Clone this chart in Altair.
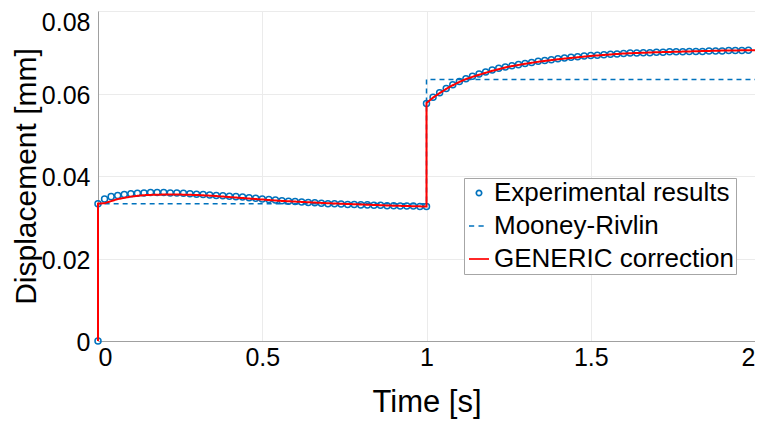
import altair as alt
import pandas as pd

# ---------------- data ----------------
series_names = ["Experimental results", "Mooney-Rivlin", "GENERIC correction"]
series_colors = ["#0072BD", "#0072BD", "#FF0000"]

# Experimental results: first loading step (0 .. 1 s)
exp_time_1 = [0.00, 0.00, 0.02, 0.04, 0.06, 0.08, 0.10, 0.12, 0.14, 0.16, 0.18,
              0.20, 0.22, 0.24, 0.26, 0.28, 0.30, 0.32, 0.34, 0.36, 0.38,
              0.40, 0.42, 0.44, 0.46, 0.48, 0.50, 0.52, 0.54, 0.56, 0.58,
              0.60, 0.62, 0.64, 0.66, 0.68, 0.70, 0.72, 0.74, 0.76, 0.78,
              0.80, 0.82, 0.84, 0.86, 0.88, 0.90, 0.92, 0.94, 0.96, 0.98, 1.00]
exp_disp_1 = [0.0000, 0.0333, 0.0344, 0.0350, 0.0353, 0.0355, 0.0357, 0.0358, 0.0359, 0.0360, 0.0360,
              0.0360, 0.0359, 0.0359, 0.0358, 0.0357, 0.0356, 0.0355, 0.0354, 0.0353, 0.0352,
              0.0351, 0.0350, 0.0349, 0.0347, 0.0346, 0.0344, 0.0343, 0.0342, 0.0340, 0.0339,
              0.0338, 0.0337, 0.0336, 0.0335, 0.0334, 0.0333, 0.0333, 0.0332, 0.0331, 0.0331,
              0.0330, 0.0330, 0.0329, 0.0329, 0.0328, 0.0328, 0.0327, 0.0327, 0.0327, 0.0326, 0.0326]

# Experimental results: second loading step (1 .. 2 s)
exp_time_2 = [1.00, 1.02, 1.04, 1.06, 1.08, 1.10, 1.12, 1.14, 1.16, 1.18,
              1.20, 1.22, 1.24, 1.26, 1.28, 1.30, 1.32, 1.34, 1.36, 1.38,
              1.40, 1.42, 1.44, 1.46, 1.48, 1.50, 1.52, 1.54, 1.56, 1.58,
              1.60, 1.62, 1.64, 1.66, 1.68, 1.70, 1.72, 1.74, 1.76, 1.78,
              1.80, 1.82, 1.84, 1.86, 1.88, 1.90, 1.92, 1.94, 1.96, 1.98]
exp_disp_2 = [0.0576, 0.0591, 0.0602, 0.0612, 0.0621, 0.0629, 0.0636, 0.0642, 0.0647, 0.0652,
              0.0657, 0.0661, 0.0664, 0.0667, 0.0670, 0.0673, 0.0675, 0.0678, 0.0680, 0.0682,
              0.0684, 0.0686, 0.0688, 0.0689, 0.0691, 0.0692, 0.0693, 0.0694, 0.0695, 0.0696,
              0.0697, 0.0698, 0.0698, 0.0699, 0.0699, 0.0700, 0.0700, 0.0701, 0.0701, 0.0701,
              0.0702, 0.0702, 0.0702, 0.0703, 0.0703, 0.0703, 0.0704, 0.0704, 0.0704, 0.0705]

# Mooney-Rivlin model (step response)
mr_time = [0.0, 0.0, 1.0, 1.0, 2.0]
mr_disp = [0.0, 0.0333, 0.0333, 0.0634, 0.0634]

# GENERIC correction
gen_time = [0.00, 0.00, 0.02, 0.04, 0.06, 0.08, 0.10, 0.12, 0.15, 0.20, 0.25,
            0.30, 0.35, 0.40, 0.45, 0.50, 0.55, 0.60, 0.70, 0.80, 0.90, 1.00,
            1.00, 1.02, 1.04, 1.06, 1.08, 1.10, 1.12, 1.15, 1.20, 1.25,
            1.30, 1.35, 1.40, 1.50, 1.60, 1.70, 1.80, 1.90, 2.00]
gen_disp = [0.0000, 0.0333, 0.0334, 0.0339, 0.0344, 0.0347, 0.0350, 0.0352, 0.0354, 0.0355, 0.0355,
            0.0354, 0.0352, 0.0349, 0.0346, 0.0343, 0.0340, 0.0338, 0.0334, 0.0331, 0.0328, 0.0326,
            0.0577, 0.0590, 0.0601, 0.0611, 0.0620, 0.0628, 0.0635, 0.0643, 0.0655, 0.0665,
            0.0672, 0.0678, 0.0683, 0.0691, 0.0697, 0.0700, 0.0702, 0.0704, 0.0705]

x_ticks = [0, 0.5, 1, 1.5, 2]
y_ticks = [0, 0.02, 0.04, 0.06, 0.08]

# legend glyphs (unit-square SVG paths): small open circle, dashed line, solid line
glyph_circle = "M0.27,0A0.27,0.27 0 1,1 -0.27,0A0.27,0.27 0 1,1 0.27,0Z"
glyph_dashed = "M-1,0H-0.48M-0.05,0H0.47"
glyph_solid = "M-1,0H1"

# ---------------- tables ----------------
exp_df = pd.DataFrame({"t": exp_time_1 + exp_time_2,
                       "d": exp_disp_1 + exp_disp_2})
exp_df["series"] = series_names[0]
exp_df["i"] = range(len(exp_df))

mr_df = pd.DataFrame({"t": mr_time, "d": mr_disp})
mr_df["series"] = series_names[1]
gen_df = pd.DataFrame({"t": gen_time, "d": gen_disp})
gen_df["series"] = series_names[2]
line_df = pd.concat([mr_df, gen_df], ignore_index=True)
line_df["i"] = range(len(line_df))

FONT = "Liberation Sans"

x_enc = alt.X("t:Q", scale=alt.Scale(domain=[0, 2], nice=False, zero=False),
              axis=alt.Axis(title="Time [s]", values=x_ticks, format="~g",
                            titleX=328.5, titleY=70, titleBaseline="alphabetic",
                            titleAnchor="middle", titleFontSize=31))
y_enc = alt.Y("d:Q", scale=alt.Scale(domain=[0, 0.08], nice=False),
              axis=alt.Axis(title="Displacement [mm]", values=y_ticks, format="~g",
                            titleX=-62.5, titleY=165, titleBaseline="alphabetic",
                            titleAngle=270, titleAlign="center", titleFontSize=30,
                            labelOffset=alt.condition("datum.value > 0.07", alt.value(11), alt.value(1.5))))

legend = alt.Legend(
    title=None, orient="none", legendX=366, legendY=167,
    symbolSize=400, symbolStrokeWidth=1.7,
    labelFont=FONT, labelFontSize=26, labelColor="black",
    labelLimit=500, labelOffset=2, padding=2, rowPadding=7,
    strokeColor="#a6a6a6", fillColor="white", cornerRadius=0,
)

color_enc = alt.Color("series:N", sort=series_names,
                      scale=alt.Scale(domain=series_names, range=series_colors),
                      legend=legend)
shape_enc = alt.Shape("series:N", sort=series_names,
                      scale=alt.Scale(domain=series_names,
                                      range=[glyph_circle, glyph_dashed, glyph_solid]),
                      legend=legend)

points = alt.Chart(exp_df).mark_point(
    filled=False, size=494, strokeWidth=1.5, opacity=1, clip=False
).encode(x=x_enc, y=y_enc, color=color_enc, shape=shape_enc)

lines = alt.Chart(line_df).mark_line(clip=False).encode(
    x=x_enc, y=y_enc, color=color_enc,
    order=alt.Order("i:Q"),
    strokeDash=alt.StrokeDash("series:N",
                              scale=alt.Scale(domain=series_names[1:], range=[[5, 4], [1, 0]]),
                              legend=None),
    strokeWidth=alt.StrokeWidth("series:N",
                                scale=alt.Scale(domain=series_names[1:], range=[1.5, 2]),
                                legend=None),
)

chart = alt.layer(points, lines).properties(
    width=657, height=330,
    padding={"left": 90, "top": 3, "right": 0, "bottom": 80},
    autosize=alt.AutoSizeParams(type="none"),
).configure_view(stroke=None).configure_axis(
    labelFont=FONT, labelFontSize=25, labelColor="black",
    titleFont=FONT, titleColor="black", titleFontWeight="normal",
    domainColor="#a0a0a0", domainWidth=1,
    gridColor="#ebebeb", gridWidth=1,
    ticks=False, tickSize=0,
).configure_axisX(labelPadding=4).configure_axisY(labelPadding=8)

chart.save("out.html", embed_options={"renderer": "svg", "actions": False})
